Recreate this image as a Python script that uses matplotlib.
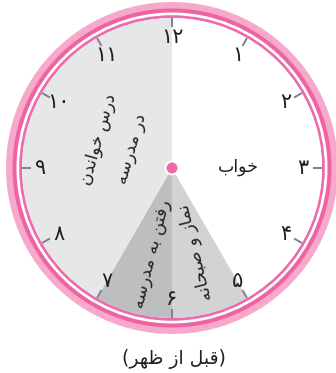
import numpy as np
import matplotlib
matplotlib.use('Agg')
import matplotlib.pyplot as plt
from matplotlib.patches import Wedge, Circle

plt.rcParams['font.family'] = ['DejaVu Sans']

# hour labels (persian digits) and activity segments in hours
hour_labels = ['۱', '۲', '۳', '۴', '۵', '۶', '۷', '۸', '۹', '۱۰', '۱۱', '۱۲']
seg_names = ['خواب', 'نماز و صبحانه', 'رفتن به مدرسه', 'درس خواندن\nدر مدرسه']
seg_start = [0, 5, 6, 7]
seg_end = [5, 6, 7, 12]
seg_colors = ['#ffffff', '#d1d3d4', '#bcbec0', '#e6e7e8']
caption = '(قبل از ظهر)'

# label placement (center x, y relative to clock center, rotation)
lab_pos = [(66, 1, 0), (23, -84, 104), (-20, -86, 76), (-57, 24, 74)]

# arabic presentation forms: isolated, final, initial, medial
FORMS = {
    'ا': ('\uFE8D', '\uFE8E', None, None),
    'ب': ('\uFE8F', '\uFE90', '\uFE91', '\uFE92'),
    'ت': ('\uFE95', '\uFE96', '\uFE97', '\uFE98'),
    'ح': ('\uFEA1', '\uFEA2', '\uFEA3', '\uFEA4'),
    'خ': ('\uFEA5', '\uFEA6', '\uFEA7', '\uFEA8'),
    'د': ('\uFEA9', '\uFEAA', None, None),
    'ر': ('\uFEAD', '\uFEAE', None, None),
    'ز': ('\uFEAF', '\uFEB0', None, None),
    'س': ('\uFEB1', '\uFEB2', '\uFEB3', '\uFEB4'),
    'ص': ('\uFEB9', '\uFEBA', '\uFEBB', '\uFEBC'),
    'ظ': ('\uFEC5', '\uFEC6', '\uFEC7', '\uFEC8'),
    'ف': ('\uFED1', '\uFED2', '\uFED3', '\uFED4'),
    'ق': ('\uFED5', '\uFED6', '\uFED7', '\uFED8'),
    'ل': ('\uFEDD', '\uFEDE', '\uFEDF', '\uFEE0'),
    'م': ('\uFEE1', '\uFEE2', '\uFEE3', '\uFEE4'),
    'ن': ('\uFEE5', '\uFEE6', '\uFEE7', '\uFEE8'),
    'ه': ('\uFEE9', '\uFEEA', '\uFEEB', '\uFEEC'),
    'و': ('\uFEED', '\uFEEE', None, None),
}
MIRROR = {'(': ')', ')': '('}

def shape_line(s):
    out = []
    for i, ch in enumerate(s):
        if ch not in FORMS:
            out.append(MIRROR.get(ch, ch))
            continue
        prev = s[i-1] if i > 0 else ''
        nxt = s[i+1] if i + 1 < len(s) else ''
        iso, fin, ini, med = FORMS[ch]
        jp = prev in FORMS and FORMS[prev][2] is not None
        jn = nxt in FORMS and ini is not None
        if jp and jn:
            out.append(med)
        elif jp:
            out.append(fin)
        elif jn:
            out.append(ini)
        else:
            out.append(iso)
    return ''.join(reversed(out))

def shape(s):
    return '\n'.join(shape_line(l) for l in s.split('\n'))

def hour_angle(h):
    return 90 - 30 * h

fig = plt.figure(figsize=(3.36, 3.73), dpi=100)
ax = fig.add_axes([0, 0, 1, 1])
ax.set_xlim(-172, 164)
ax.set_ylim(-205, 168)
ax.set_aspect('equal')
ax.axis('off')

R = 150
# outer rings
ax.add_patch(Circle((0, 0), 166, color='#f6a9ca', lw=0))
ax.add_patch(Circle((0, 0), 159.5, color='#ee64a2', lw=0))
ax.add_patch(Circle((0, 0), 155.5, color='white', lw=0))
ax.add_patch(Circle((0, 0), 152.8, color='#ee6aa8', lw=0))
ax.add_patch(Circle((0, 0), R, color='white', lw=0))

for s, e, c in zip(seg_start, seg_end, seg_colors):
    ax.add_patch(Wedge((0, 0), R, hour_angle(e), hour_angle(s), color=c, lw=0))

# hour ticks and numbers
for i, lab in enumerate(hour_labels):
    h = i + 1
    a = np.deg2rad(hour_angle(h))
    ax.plot([141 * np.cos(a), R * np.cos(a)], [141 * np.sin(a), R * np.sin(a)],
            color='#808285', lw=1.4, solid_capstyle='butt')
    ax.text(131 * np.cos(a), 131 * np.sin(a), lab, ha='center', va='center',
            fontsize=15, color='#231f20')

for name, (x, y, rot) in zip(seg_names, lab_pos):
    ax.text(x, y, shape(name), ha='center', va='center', rotation=rot,
            rotation_mode='anchor', fontsize=12.5, color='#231f20',
            linespacing=2.1, multialignment='center')

ax.add_patch(Circle((0, 0), 7.5, color='white', lw=0))
ax.add_patch(Circle((0, 0), 5.5, color='#ee6aa8', lw=0))

ax.text(2, -191, shape(caption), ha='center', va='center', fontsize=13.5,
        color='#231f20')

fig.savefig('out.png', dpi=100)
